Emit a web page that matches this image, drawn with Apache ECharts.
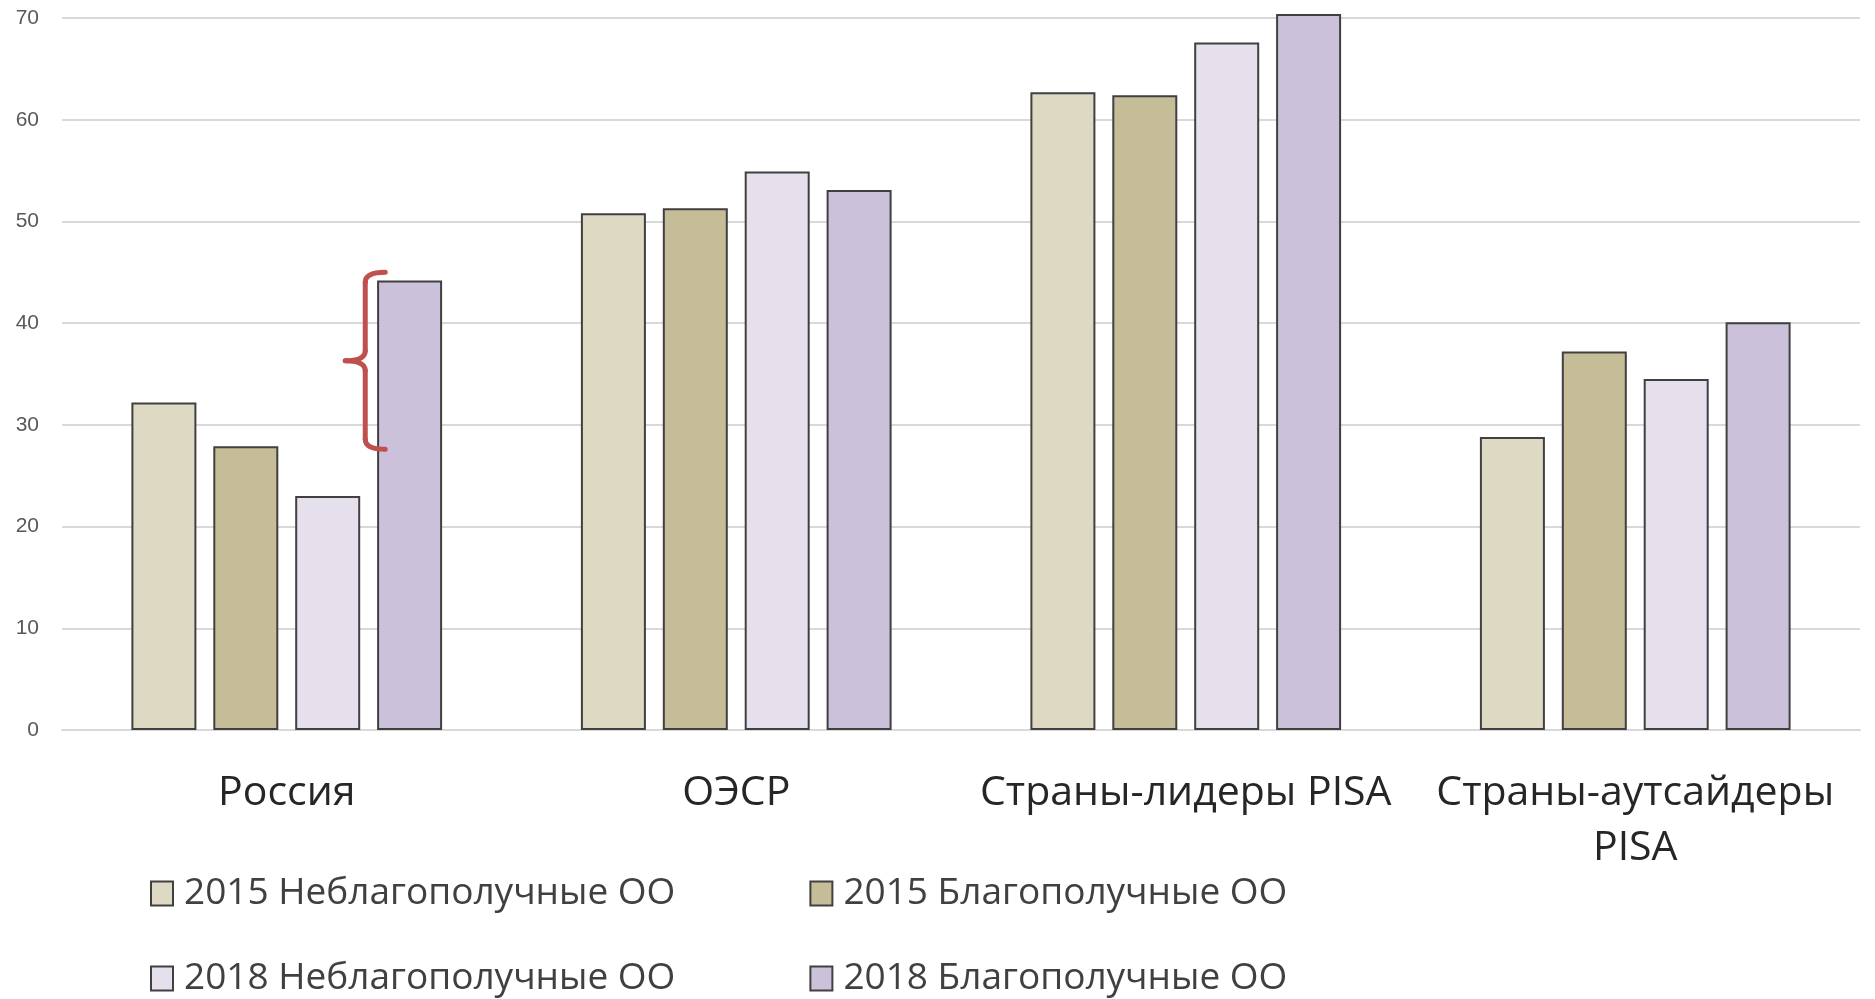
<!DOCTYPE html>
<html>
<head>
<meta charset="utf-8">
<script src="https://cdn.jsdelivr.net/npm/echarts@6/dist/echarts.min.js"></script>
<style>
  html, body { margin: 0; padding: 0; background: #fff; }
  #main { width: 1875px; height: 999px; }
</style>
</head>
<body>
<div id="main"></div>
<script>
// categories and the four series
var categories = ['Россия', 'ОЭСР', 'Страны-лидеры PISA', 'Страны-аутсайдеры\nPISA'];
var seriesNames = ['2015 Неблагополучные ОО', '2015 Благополучные ОО', '2018 Неблагополучные ОО', '2018 Благополучные ОО'];
var poor2015 = [32.2, 50.8, 62.7, 28.8];
var good2015 = [27.9, 51.3, 62.4, 37.2];
var poor2018 = [23.0, 54.9, 67.6, 34.5];
var good2018 = [44.2, 53.1, 70.4, 40.1];
var yTicks = [0, 10, 20, 30, 40, 50, 60, 70];
// bracket on Russia: spans between these values
var bracketRange = [27.6, 45.0];

(function() {
    var chartDom = document.getElementById('main');
    var myChart = echarts.init(chartDom);
    var colors = ['#DDD9C3', '#C4BD97', '#E5E0EC', '#CCC1DA'];
    var barStyle = function(c) {
        return { color: c, borderColor: '#404040', borderWidth: 2 };
    };
    var values = [poor2015, good2015, poor2018, good2018];

    var series = seriesNames.map(function(name, i) {
        return {
            name: name,
            type: 'bar',
            barWidth: 65,
            barGap: '26%',
            clip: false,
            itemStyle: barStyle(colors[i]),
            emphasis: { disabled: true },
            data: values[i]
        };
    });

    var legendText = { fontFamily: 'Open Sans', fontSize: 37, color: '#404040', padding: [0, 0, 0, 6] };

    var option = {
        animation: false,
        color: colors,
        grid: { left: 62, right: 15, top: 18, bottom: 269, containLabel: false },
        legend: [{
            data: seriesNames.slice(0, 2),
            left: 145, top: 870,
            itemWidth: 22, itemHeight: 24, itemGap: 134,
            icon: 'rect',
            textStyle: legendText
        }, {
            data: seriesNames.slice(2, 4),
            left: 145, top: 955,
            itemWidth: 22, itemHeight: 24, itemGap: 134,
            icon: 'rect',
            textStyle: legendText
        }],
        xAxis: {
            type: 'category',
            data: categories,
            axisLine: { lineStyle: { color: '#D9D9D9', width: 2 } },
            axisTick: { show: false },
            axisLabel: {
                interval: 0,
                margin: 36,
                fontFamily: 'Open Sans',
                fontSize: 41,
                lineHeight: 55,
                color: '#262626'
            }
        },
        yAxis: {
            type: 'value',
            min: 0, max: 70, interval: 10,
            axisLabel: {
                margin: 23,
                fontFamily: 'Liberation Sans',
                fontSize: 21,
                color: '#595959',
                customValues: yTicks
            },
            splitLine: { lineStyle: { color: '#D9D9D9', width: 2 } }
        },
        series: series
    };

    myChart.setOption(option);

    // red curly bracket next to the last Russian bar
    var top = myChart.convertToPixel({ xAxisIndex: 0, yAxisIndex: 0 }, [0, bracketRange[1]]);
    var bot = myChart.convertToPixel({ xAxisIndex: 0, yAxisIndex: 0 }, [0, bracketRange[0]]);
    var barLeft = top[0] + 1.5 * (65 + 17) - 32.5;
    var x = barLeft - 12, y1 = top[1], y2 = bot[1], ym = (y1 + y2) / 2;
    var stroke = { stroke: '#C0504D', lineWidth: 5, lineCap: 'round', fill: null };
    var curve = function(ax, ay, cx, cy, bx, by) {
        return { type: 'bezierCurve', z: 100, shape: { x1: ax, y1: ay, cpx1: cx, cpy1: cy, x2: bx, y2: by }, style: stroke };
    };
    var seg = function(ax, ay, bx, by) {
        return { type: 'line', z: 100, shape: { x1: ax, y1: ay, x2: bx, y2: by }, style: stroke };
    };
    myChart.setOption({
        graphic: [
            curve(x + 20, y1, x, y1, x, y1 + 10),
            seg(x, y1 + 10, x, ym - 10),
            curve(x, ym - 10, x, ym, x - 20, ym),
            curve(x - 20, ym, x, ym, x, ym + 10),
            seg(x, ym + 10, x, y2 - 10),
            curve(x, y2 - 10, x, y2, x + 20, y2)
        ]
    });
})();
</script>
</body>
</html>
